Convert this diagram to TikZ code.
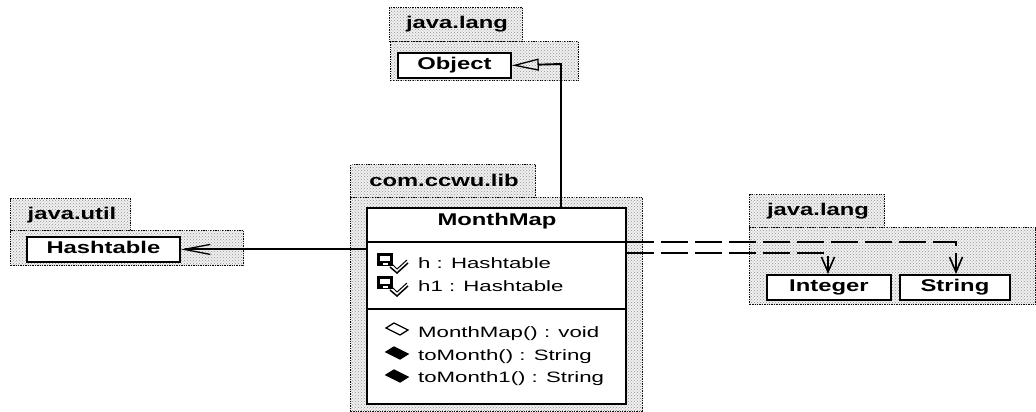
\documentclass[tikz,border=0pt]{standalone}
\usepackage{fontspec}
\setmainfont{Liberation Sans}
\newfontfamily\boldwide[FakeStretch=1.4,BoldFont={Liberation Sans Bold}]{Liberation Sans Bold}
\newfontfamily\regwide[FakeStretch=1.48]{Liberation Sans}
\usetikzlibrary{patterns,arrows.meta}
\tikzset{
  x=1pt,y=-1pt,
  pkgpart/.style={draw=black,line width=1.4pt,densely dotted,fill=gray!12,postaction={pattern=crosshatch dots,pattern color=gray!85},inner sep=0pt,anchor=north west},
  pkgtitle/.style={font=\boldwide\fontsize{17}{19}\selectfont,inner sep=0pt,text height=12pt,text depth=3pt},
  classbox/.style={draw=black,line width=1.8pt,fill=white,inner sep=0pt,anchor=north west,font=\boldwide\fontsize{17}{19}\selectfont,text height=12pt,text depth=3pt},
  member/.style={font=\regwide\fontsize{15}{17}\selectfont,inner sep=0pt,anchor=west,text height=11pt,text depth=3pt},
  link/.style={draw=black,line width=1.9pt},
  depend/.style={link,dash pattern=on 27pt off 7pt,-{Straight Barb[length=15pt,width=13pt,line width=1.6pt]}},
}
\newcommand{\attricon}[2]{%
  \begin{scope}[shift={(#1,#2)}]
    \fill[black] (0,-10) rectangle (16,3);
    \fill[white] (3,-7) rectangle (13,-2);
    \fill[white] (6,0) rectangle (11,1.5);
    \draw[line width=1.5pt] (13,4) -- (20,10) -- (31,0);
    \draw[line width=1pt] (14,0) -- (20,6) -- (30,-3);
  \end{scope}}
\newcommand{\opicon}[3]{%
  \draw[black,line width=1.3pt,fill=#3] (#1-11,#2-1) -- (#1-3,#2-6) -- (#1+11,#2+1) -- (#1+3,#2+6) -- cycle;}
\begin{document}
\begin{tikzpicture}
\useasboundingbox (0,0) rectangle (1036,412);
% top java.lang
\node[pkgpart,minimum width=133pt,minimum height=34pt] (langtab) at (389,7) {};
\node[pkgpart,minimum width=188pt,minimum height=39pt] (langbody) at (390,41) {};
\node[pkgtitle] (langlabel) at (457,24.5) {java.lang};
\node[classbox,minimum width=113pt,minimum height=25pt] (object) at (397,52) {Object};
% com.ccwu.lib
\node[pkgpart,minimum width=185pt,minimum height=33pt] (libtab) at (350,164) {};
\node[pkgpart,minimum width=292pt,minimum height=214pt] (libbody) at (350,197) {};
\node[pkgtitle] (liblabel) at (444,181.5) {com.ccwu.lib};
\node[draw=black,line width=1.8pt,fill=white,inner sep=0pt,anchor=north west,minimum width=259pt,minimum height=196pt] (mmbox) at (366,207) {};
\node[pkgtitle] (mmtitle) at (497,220.5) {MonthMap};
\coordinate (div1) at (366,242);
\coordinate (div2) at (366,309);
\draw[line width=1.5pt] (div1) -- (div1 -| mmbox.east);
\draw[line width=1.1pt] (div2) -- (div2 -| mmbox.east);
\attricon{377}{263}
\attricon{377}{286}
\node[member] (attrh) at (418,264.5) {h : Hashtable};
\node[member] (attrhone) at (418,287.5) {h1 : Hashtable};
\opicon{397}{329}{white}
\opicon{397}{353}{black}
\opicon{397}{376}{black}
\node[member] (opone) at (418,333) {MonthMap() : void};
\node[member] (optwo) at (418,356) {toMonth() : String};
\node[member] (opthree) at (418,378) {toMonth1() : String};
% java.util
\node[pkgpart,minimum width=120pt,minimum height=32pt] (utiltab) at (10,198) {};
\node[pkgpart,minimum width=233pt,minimum height=35pt] (utilbody) at (10,230) {};
\node[pkgtitle] (utillabel) at (72,214.5) {java.util};
\node[classbox,minimum width=153pt,minimum height=25pt] (hashtable) at (26,236) {Hashtable};
% right java.lang
\node[pkgpart,minimum width=135pt,minimum height=33pt] (ltab) at (749,194) {};
\node[pkgpart,minimum width=286pt,minimum height=77pt] (lbody) at (749,227) {};
\node[pkgtitle] (llabel) at (818,210.5) {java.lang};
\node[classbox,minimum width=124pt,minimum height=25pt] (integer) at (766,274) {Integer};
\node[classbox,minimum width=110pt,minimum height=25pt] (string) at (899,274) {String};
% connectors
\coordinate (objbend) at (561,64);
\coordinate (strbend) at (956,242);
\coordinate (intbend) at (828,253);
\draw[link,-{Triangle[open,length=27pt,width=12pt,line width=1.3pt]}] (mmbox.north -| objbend) -- (objbend) -- (object.east);
\draw[link,-{Straight Barb[length=26pt,width=10pt,line width=1.3pt]}] (mmbox.west |- hashtable.east) -- (hashtable.east);
\draw[depend] (div1 -| mmbox.east) -- (strbend) -- (string.north -| strbend);
\draw[depend] (mmbox.east |- intbend) -- (intbend) -- (integer.north -| intbend);
\end{tikzpicture}
\end{document}
